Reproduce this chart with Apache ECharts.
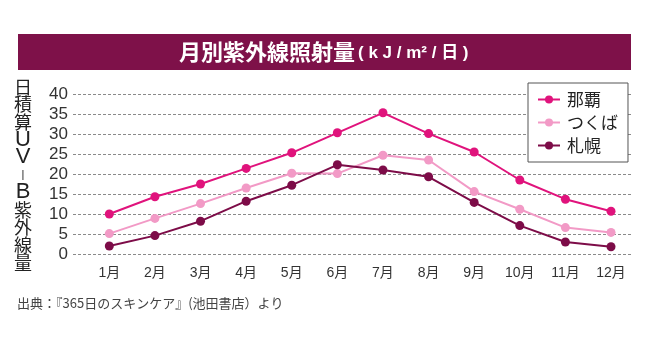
<!DOCTYPE html>
<html>
<head>
<meta charset="utf-8">
<script src="https://cdn.jsdelivr.net/npm/echarts@6/dist/echarts.min.js"></script>
<style>
  html, body { margin: 0; padding: 0; background: #fff; }
  #chart { width: 650px; height: 350px; }
</style>
</head>
<body>
<div id="chart"></div>
<script>
// Monthly UV-B exposure (kJ/m²/day) for three cities
const months = ['1月','2月','3月','4月','5月','6月','7月','8月','9月','10月','11月','12月'];
const naha    = [10.0, 14.3, 17.5, 21.4, 25.3, 30.3, 35.3, 30.1, 25.5, 18.5, 13.7, 10.7];
const tsukuba = [5.1, 8.9, 12.6, 16.5, 20.2, 20.1, 24.7, 23.5, 15.6, 11.2, 6.6, 5.4];
const sapporo = [2.0, 4.6, 8.2, 13.2, 17.2, 22.3, 21.0, 19.3, 12.9, 7.1, 3.0, 1.8];
const yTicks = [0, 5, 10, 15, 20, 25, 30, 35, 40];

const seriesDefs = [
  { name: '那覇', values: naha, color: '#e0137c' },
  { name: 'つくば', values: tsukuba, color: '#f29ac6' },
  { name: '札幌', values: sapporo, color: '#7d0c48' }
];

const jpFont = '"Noto Sans CJK JP", sans-serif';
const numFont = '"Liberation Sans", "Noto Sans CJK JP", sans-serif';
const monthPos = months.map((m, i) => i + 1);

// vertical axis title, one glyph per line; Latin letters get their own style
const yTitleChars = ['日','積','算','U','V','|','B','紫','外','線','量'];
const yTitleText = yTitleChars.map(c => {
  if (c === '|') return '{d|' + c + '}';
  if (/[A-Z]/.test(c)) return '{l|' + c + '}';
  return '{c|' + c + '}';
}).join('\n');

const chart = echarts.init(document.getElementById('chart'), null, { renderer: 'canvas' });

chart.setOption({
  backgroundColor: '#fff',
  animation: false,
  grid: { left: 73, right: 18, top: 94, bottom: 96, containLabel: false },
  xAxis: {
    type: 'value',
    min: 0.204,
    max: 12.46,
    axisLine: { show: false },
    axisTick: { show: false },
    splitLine: { show: false },
    axisLabel: {
      customValues: monthPos,
      formatter: v => months[Math.round(v) - 1] || '',
      color: '#333',
      fontSize: 14,
      fontFamily: numFont,
      margin: 12
    }
  },
  yAxis: {
    type: 'value',
    min: yTicks[0],
    max: yTicks[yTicks.length - 1],
    interval: 5,
    axisLine: { show: false },
    axisTick: { show: false },
    axisLabel: { color: '#333', fontSize: 17, fontFamily: numFont, margin: 5 },
    splitLine: { lineStyle: { color: '#8a8a8a', width: 1, type: [3, 2] } }
  },
  legend: {
    orient: 'vertical',
    left: 528,
    top: 83,
    width: 89,
    padding: [8, 10, 8, 9],
    backgroundColor: '#fff',
    borderColor: '#555',
    borderWidth: 1,
    itemWidth: 22,
    itemHeight: 10,
    itemGap: 6,
    textStyle: { fontSize: 17, color: '#222', fontFamily: jpFont, lineHeight: 17, padding: [0, 0, 0, 2] },
    data: seriesDefs.map(s => s.name)
  },
  graphic: [
    { type: 'rect', left: 18, top: 34, shape: { width: 613, height: 36 }, style: { fill: '#7e1149' }, z: 10 },
    {
      type: 'text', x: 179, y: 52, z: 11,
      style: {
        text: '月別紫外線照射量',
        fontSize: 22, fontWeight: 'bold', fill: '#fff', fontFamily: jpFont,
        verticalAlign: 'middle'
      }
    },
    {
      type: 'text', x: 358, y: 53, z: 11,
      style: {
        text: '( k J / m² / 日 )',
        fontSize: 17, fontWeight: 'bold', fill: '#fff', fontFamily: numFont,
        verticalAlign: 'middle'
      }
    },
    {
      type: 'text', x: 23, y: 78, z: 11,
      style: {
        text: yTitleText,
        align: 'center',
        rich: {
          c: { fontSize: 18, lineHeight: 17.6, fill: '#222', fontFamily: jpFont, align: 'center' },
          l: { fontSize: 22, lineHeight: 17.6, fill: '#222', fontFamily: numFont, align: 'center' },
          d: { fontSize: 11, lineHeight: 17.6, fill: '#222', fontFamily: numFont, align: 'center' }
        }
      }
    },
    {
      type: 'text', left: 17, top: 297, z: 11,
      style: { text: '出典：『365日のスキンケア』(池田書店）より', fontSize: 13, fill: '#444', fontFamily: jpFont }
    }
  ],
  series: seriesDefs.map(s => ({
    name: s.name,
    type: 'line',
    data: s.values.map((v, i) => [monthPos[i], v]),
    symbol: 'circle',
    symbolSize: 9,
    itemStyle: { color: s.color },
    lineStyle: { color: s.color, width: 2 }
  }))
});
</script>
</body>
</html>
